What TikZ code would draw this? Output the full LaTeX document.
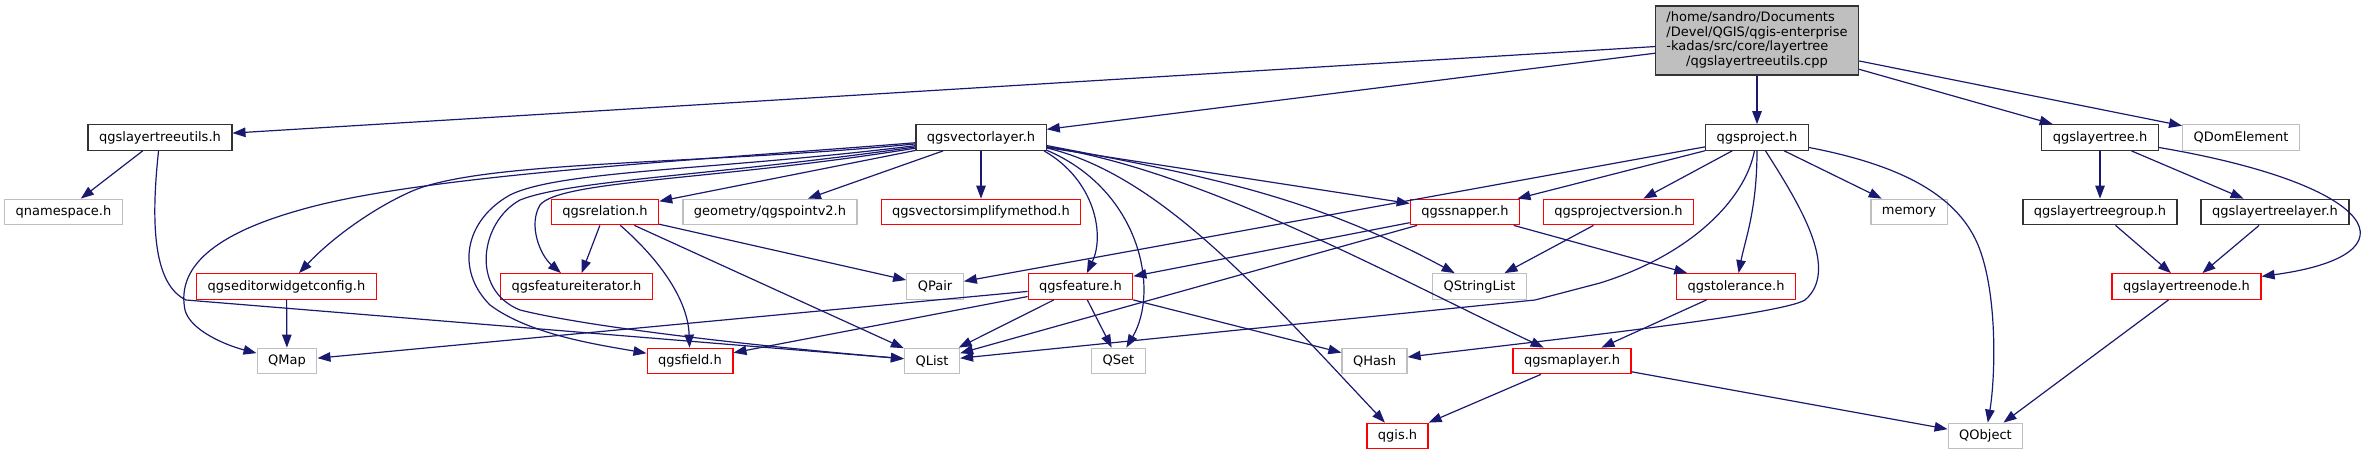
\documentclass[tikz,border=0pt]{standalone}
\usepackage{fontspec}
\setmainfont{DejaVu Sans}
\usetikzlibrary{arrows.meta}
\definecolor{edgecol}{HTML}{191970}
\definecolor{boxgray}{HTML}{BFBFBF}
\definecolor{boxred}{HTML}{FF0000}
\tikzset{
  nodebase/.style={draw, rectangle, line width=1.3pt, inner xsep=11pt, inner ysep=0pt,
    minimum height=25.5pt, font=\fontsize{13}{14.5}\selectfont},
  nodeblack/.style={nodebase, draw=black!80},
  nodered/.style={nodebase, draw=boxred},
  nodegray/.style={nodebase, draw=boxgray},
  nodemain/.style={nodebase, draw=black!80, fill=boxgray, minimum height=69pt, inner xsep=11pt},
  edge/.style={draw=edgecol, line width=1.2pt, -{Triangle[length=13pt,width=9.5pt]}}
}
\begin{document}
\begin{tikzpicture}[x=1pt,y=-1pt]
\useasboundingbox (0,0) rectangle (2375,455);
% row 1
\node[nodemain] (main) at (1757,40.5) {\begin{tabular}{@{}l@{}}/home/sandro/Documents\\/Devel/QGIS/qgis-enterprise\\-kadas/src/core/layertree\\\multicolumn{1}{@{}c@{}}{/qgslayertreeutils.cpp}\end{tabular}};
% row 2
\node[nodeblack] (lu) at (160,137.5) {qgslayertreeutils.h};
\node[nodeblack] (qv) at (981,137.5) {qgsvectorlayer.h};
\node[nodeblack] (qp) at (1757,137.5) {qgsproject.h};
\node[nodeblack] (lt) at (2100,137.5) {qgslayertree.h};
\node[nodegray] (dom) at (2241,137.5) {QDomElement};
% row 3
\node[nodegray] (ns) at (63.5,212) {qnamespace.h};
\node[nodered] (rel) at (605,212) {qgsrelation.h};
\node[nodegray] (pt) at (770,212) {geometry/qgspointv2.h};
\node[nodered] (vsm) at (981,212) {qgsvectorsimplifymethod.h};
\node[nodered] (snap) at (1465,212) {qgssnapper.h};
\node[nodered] (pv) at (1618.5,212) {qgsprojectversion.h};
\node[nodegray] (mem) at (1909,212) {memory};
\node[nodeblack] (ltg) at (2100,212) {qgslayertreegroup.h};
\node[nodeblack] (ltl) at (2275,212) {qgslayertreelayer.h};
% row 4
\node[nodered] (ewc) at (286.5,286.5) {qgseditorwidgetconfig.h};
\node[nodered] (fi) at (576.5,286.5) {qgsfeatureiterator.h};
\node[nodegray] (pair) at (935,286.5) {QPair};
\node[nodered] (feat) at (1080.5,286.5) {qgsfeature.h};
\node[nodegray] (sl) at (1479.5,286.5) {QStringList};
\node[nodered] (tol) at (1736,286.5) {qgstolerance.h};
\node[nodered] (ltn) at (2186.5,286.5) {qgslayertreenode.h};
% row 5
\node[nodegray] (map) at (287,361) {QMap};
\node[nodered] (field) at (690,361) {qgsfield.h};
\node[nodegray] (list) at (932,361) {QList};
\node[nodegray] (set) at (1118.5,361) {QSet};
\node[nodegray] (hash) at (1374.5,361) {QHash};
\node[nodered] (ml) at (1572,361) {qgsmaplayer.h};
% row 6
\node[nodered] (qgis) at (1397.5,436) {qgis.h};
\node[nodegray] (qobj) at (1985.5,436) {QObject};

% edges from main
\draw[edge] (main) -- (lu);
\draw[edge] (main) -- (qv);
\draw[edge] (main) -- (qp);
\draw[edge] (main) -- (lt);
\draw[edge] (main) -- (dom);
% qgslayertreeutils
\draw[edge] (lu) -- (ns);
\draw[edge] (lu) .. controls (150,230) and (155,285) .. (186,300) -- (list);
% qgsvectorlayer left fan
\draw[edge] (qv) .. controls (700,160) and (420,175) .. (300,210) .. controls (200,238) and (178,275) .. (185,310) .. controls (190,330) and (225,345) .. (map);
\draw[edge] (qv) .. controls (700,165) and (480,160) .. (410,192) .. controls (370,210) and (330,240) .. (ewc);
\draw[edge] (qv) .. controls (720,170) and (560,170) .. (510,195) .. controls (465,220) and (455,270) .. (490,305) .. controls (530,335) and (600,345) .. (field);
\draw[edge] (qv) .. controls (720,175) and (570,180) .. (520,200) .. controls (480,222) and (470,290) .. (520,310) .. controls (600,330) and (800,350) .. (list);
\draw[edge] (qv) .. controls (720,180) and (560,180) .. (540,205) .. controls (528,225) and (540,255) .. (fi);
\draw[edge] (qv) -- (rel);
\draw[edge] (qv) -- (pt);
\draw[edge] (qv) -- (vsm);
\draw[edge] (qv) -- (snap);
% qgsvectorlayer right fan
\draw[edge] (qv.-12) .. controls (1095,180) and (1105,235) .. (feat);
\draw[edge] (qv.-11) .. controls (1140,190) and (1160,290) .. (set);
\draw[edge] (qv.-9) .. controls (1160,175) and (1260,290) .. (qgis);
\draw[edge] (qv.-8) .. controls (1200,170) and (1390,275) .. (ml);
\draw[edge] (qv.-7) .. controls (1200,175) and (1310,195) .. (sl);
% qgsrelation
\draw[edge] (rel) -- (fi);
\draw[edge] (rel) .. controls (660,260) and (688,300) .. (field);
\draw[edge] (rel) -- (list);
\draw[edge] (rel) -- (pair);
% qgsfeature
\draw[edge] (feat) -- (map);
\draw[edge] (feat) -- (field);
\draw[edge] (feat) -- (list);
\draw[edge] (feat) -- (set);
\draw[edge] (feat) -- (hash);
% qgssnapper
\draw[edge] (snap) -- (feat);
\draw[edge] (snap) -- (list);
\draw[edge] (snap) -- (tol);
% qgsprojectversion
\draw[edge] (pv) -- (sl);
% qgsproject
\draw[edge] (qp) -- (snap);
\draw[edge] (qp) -- (pair);
\draw[edge] (qp) -- (pv);
\draw[edge] (qp) -- (mem);
\draw[edge] (qp) .. controls (1745,200) and (1690,255) .. (1600,283) -- (1535,300) -- (list);
\draw[edge] (qp) .. controls (1800,205) and (1840,270) .. (1805,300) .. controls (1780,315) and (1550,340) .. (hash);
\draw[edge] (qp) .. controls (1757,210) and (1745,240) .. (tol);
\draw[edge] (qp) .. controls (1900,165) and (1960,195) .. (1980,250) .. controls (1998,300) and (1995,380) .. (qobj);
% tolerance / maplayer
\draw[edge] (tol) -- (ml);
\draw[edge] (ml) -- (qgis);
\draw[edge] (ml) -- (qobj);
% layer tree
\draw[edge] (lt) -- (ltg);
\draw[edge] (lt) -- (ltl);
\draw[edge] (lt) .. controls (2380,185) and (2420,255) .. (ltn);
\draw[edge] (ltg) -- (ltn);
\draw[edge] (ltl) -- (ltn);
\draw[edge] (ltn) -- (qobj);
% editor widget config
\draw[edge] (ewc) -- (map);
\end{tikzpicture}
\end{document}
